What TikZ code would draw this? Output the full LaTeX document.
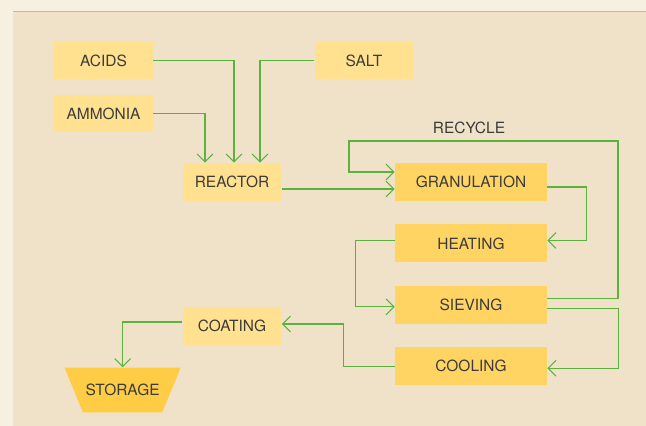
\documentclass[tikz,border=0pt]{standalone}
\usepackage{xcolor}
\usepackage{fontspec}
\setsansfont{TeX Gyre Heros}
\usepackage{tikz}
\usetikzlibrary{shapes.geometric,arrows.meta,positioning,calc}

\definecolor{pagebg}{HTML}{F7EFE0}
\definecolor{panelbg}{HTML}{F0E2C8}
\definecolor{panelrule}{HTML}{D6BA7C}
\definecolor{feedyellow}{HTML}{FFE18F}
\definecolor{stageyellow}{HTML}{FFD462}
\definecolor{storeyellow}{HTML}{FFCD45}
\definecolor{flowgreen}{HTML}{5CB33C}
\definecolor{labelgray}{HTML}{3C3C3C}

\begin{document}
\begin{tikzpicture}[x=0.02cm, y=-0.02cm, node distance=0.455cm]
        % Define styles
        \tikzstyle{feed} = [rectangle, fill=feedyellow, minimum width=1.98cm, minimum height=0.76cm, text=labelgray, font=\sffamily\fontsize{8.8}{10}\selectfont]
        \tikzstyle{stage} = [feed, fill=stageyellow, minimum width=3.04cm]
        \tikzstyle{store} = [trapezium, shape border rotate=180, trapezium angle=67.6, fill=storeyellow, inner xsep=1.5pt, inner ysep=9.4pt, text=labelgray, font=\sffamily\fontsize{8.8}{10}\selectfont]
        \tikzstyle{flow} = [draw=flowgreen, line width=0.6pt, -{Straight Barb[length=4.5pt,width=9pt]}]

        % Background panel
        \useasboundingbox (0,0) rectangle (646,426);
        \fill[pagebg] (0,0) rectangle (646,426);
        \fill[panelbg] (13,11) rectangle (646,426);
        \draw[panelrule, line width=1pt] (13,11.5) -- (646,11.5);

        % Raw materials
        \node [feed] (acids) at (103.5,60.5) {ACIDS};
        \node [feed] (ammonia) at (103.5,113.5) {AMMONIA};
        \node [feed] (salt) at (364,60.5) {SALT};
        \node [feed] (reactor) at (232,182) {REACTOR};

        % Process stages
        \node [stage] (granulation) at (471,182) {GRANULATION};
        \node [stage, below=of granulation] (heating) {HEATING};
        \node [stage, below=of heating] (sieving) {SIEVING};
        \node [stage, below=of sieving] (cooling) {COOLING};
        \node [feed] (coating) at (232,326) {COATING};
        \node [store] (storage) at (122.6,390) {STORAGE};

        % Recycle loop
        \coordinate (rtop) at (618,141);
        \coordinate (ltop) at (349,141);
        \node [text=labelgray, font=\sffamily\fontsize{8.8}{10}\selectfont] (recycle) at (469,128) {RECYCLE};

        % Arrows
        \draw [flow] (ammonia) -| ($(reactor.north)+(-27,0)$);
        \draw [flow] (acids) -| ($(reactor.north)+(2,0)$);
        \draw [flow] (salt) -| ($(reactor.north)+(28,0)$);
        \draw [flow] ($(reactor.east)+(0,7)$) -- ($(granulation.west)+(0,7)$);
        \draw [flow] ($(sieving.east)+(0,-6)$) -| (rtop) -- (ltop) |- ($(granulation.west)+(0,-10)$);
        \draw [flow] ($(granulation.east)+(0,5)$) -- ++(39,0) |- ($(heating.east)+(0,-3)$);
        \draw [flow] ($(heating.west)+(0,-3)$) -- ++(-39,0) |- ($(sieving.west)+(0,2)$);
        \draw [flow] ($(sieving.east)+(0,4)$) -- ++(71,0) |- ($(cooling.east)+(0,2)$);
        \draw [flow] (cooling.west) -- ++(-51.5,0) |- ($(coating.east)+(0,-2)$);
        \draw [flow] ($(coating.west)+(0,-4)$) -| (storage.north);
\end{tikzpicture}
\end{document}
